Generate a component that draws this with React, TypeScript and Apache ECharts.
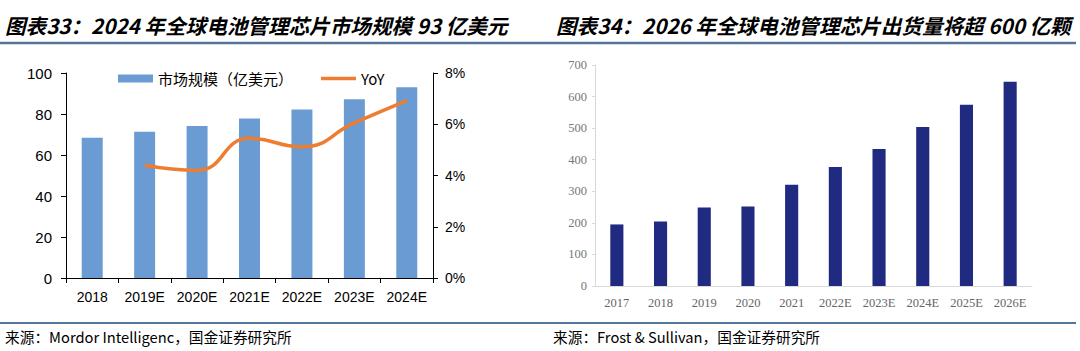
import React, { useEffect, useRef } from "react";
import * as echarts from "echarts";

const leftCategories = ["2018", "2019E", "2020E", "2021E", "2022E", "2023E", "2024E"];
const marketSize = [68.4, 71.3, 74.1, 77.8, 82.2, 87.2, 93];
const yoy = [null, 4.4, 4.2, 5.45, 5.12, 6.05, 6.92];

const rightCategories = ["2017", "2018", "2019", "2020", "2021", "2022E", "2023E", "2024E", "2025E", "2026E"];
const shipments = [195, 204, 249, 252, 321, 377, 434, 504, 574, 647];

const leftTitle = "图表33：2024 年全球电池管理芯片市场规模 93 亿美元";
const rightTitle = "图表34：2026 年全球电池管理芯片出货量将超 600 亿颗";
const leftSource = "来源：Mordor Intelligenc，国金证券研究所";
const rightSource = "来源：Frost & Sullivan，国金证券研究所";

export default function App() {
  const ref = useRef<HTMLDivElement>(null);
  useEffect(() => {
    if (!ref.current) return;
    const chart = echarts.init(ref.current, null, { renderer: "svg" });
    const sans = "Liberation Sans, Arial, sans-serif";
    const serif = "Liberation Serif, Times New Roman, serif";
    const cjk = "'Noto Sans CJK SC', sans-serif";
    chart.setOption({
      animation: false,
      backgroundColor: "#ffffff",
      textStyle: { fontFamily: sans },
      grid: [
        { left: 66, top: 73, width: 367, height: 205 },
        { left: 595, top: 65, width: 437, height: 221 },
      ],
      legend: {
        left: 113,
        top: 66,
        itemWidth: 35,
        itemHeight: 8,
        itemGap: 28,
        textStyle: { fontSize: 15, color: "#000", fontFamily: cjk },
        data: [
          { name: "市场规模（亿美元）", icon: "rect" },
          { name: "YoY", icon: "path://M0,0 H35 V3.5 H0 Z" },
        ],
      },
      xAxis: [
        {
          type: "category",
          gridIndex: 0,
          data: leftCategories,
          axisLine: { lineStyle: { color: "#000", width: 1 } },
          axisTick: { show: true, length: 5, lineStyle: { color: "#000" } },
          axisLabel: { fontSize: 14, color: "#000", margin: 12, interval: 0 },
        },
        {
          type: "category",
          gridIndex: 1,
          data: rightCategories,
          axisLine: { lineStyle: { color: "#D9D9D9", width: 1 } },
          axisTick: { show: false },
          axisLabel: { fontSize: 12.5, color: "#666", margin: 10, fontFamily: serif, interval: 0 },
        },
      ],
      yAxis: [
        {
          type: "value",
          gridIndex: 0,
          min: 0,
          max: 100,
          interval: 20,
          axisLine: { show: true, lineStyle: { color: "#000" } },
          axisTick: { show: true, length: 5, lineStyle: { color: "#000" } },
          axisLabel: { fontSize: 15, color: "#000", margin: 14 },
          splitLine: { show: false },
        },
        {
          type: "value",
          gridIndex: 0,
          position: "right",
          min: 0,
          max: 8,
          interval: 2,
          axisLine: { show: true, lineStyle: { color: "#000" } },
          axisTick: { show: true, length: 5, lineStyle: { color: "#000" } },
          axisLabel: { fontSize: 14, color: "#000", margin: 12, formatter: "{value}%" },
          splitLine: { show: false },
        },
        {
          type: "value",
          gridIndex: 1,
          min: 0,
          max: 700,
          interval: 100,
          axisLine: { show: true, lineStyle: { color: "#D9D9D9" } },
          axisTick: { show: true, length: 3, lineStyle: { color: "#D9D9D9" } },
          axisLabel: { fontSize: 12.5, color: "#777", margin: 8, fontFamily: serif },
          splitLine: { show: false },
        },
      ],
      series: [
        {
          name: "市场规模（亿美元）",
          type: "bar",
          xAxisIndex: 0,
          yAxisIndex: 0,
          data: marketSize,
          barWidth: "40%",
          itemStyle: { color: "#6A9BD2" },
        },
        {
          name: "YoY",
          type: "line",
          xAxisIndex: 0,
          yAxisIndex: 1,
          data: yoy,
          smooth: 0.5,
          symbol: "none",
          lineStyle: { color: "#ED7D31", width: 3.5 },
          itemStyle: { color: "#ED7D31" },
        },
        {
          name: "出货量",
          type: "bar",
          xAxisIndex: 1,
          yAxisIndex: 2,
          data: shipments,
          barWidth: "30%",
          itemStyle: { color: "#1F2A80" },
        },
      ],
      graphic: [
        {
          type: "text",
          left: 5,
          top: 15,
          style: { text: leftTitle, fontSize: 20.6, fontWeight: "bold", fontStyle: "italic", fill: "#000", fontFamily: cjk },
        },
        {
          type: "text",
          left: 556,
          top: 15,
          style: { text: rightTitle, fontSize: 20.6, fontWeight: "bold", fontStyle: "italic", fill: "#000", fontFamily: cjk },
        },
        {
          type: "line",
          shape: { x1: 0, y1: 43, x2: 1076, y2: 43 },
          style: { stroke: "#54769A", lineWidth: 2.5 },
        },
        {
          type: "line",
          shape: { x1: 0, y1: 323, x2: 1076, y2: 323 },
          style: { stroke: "#54769A", lineWidth: 2 },
        },
        {
          type: "text",
          left: 5,
          top: 329,
          style: { text: leftSource, fontSize: 14.7, fill: "#000", fontFamily: cjk },
        },
        {
          type: "text",
          left: 553,
          top: 329,
          style: { text: rightSource, fontSize: 14.7, fill: "#000", fontFamily: cjk },
        },
      ],
    });
    return () => chart.dispose();
  }, []);
  return (
    <div
      ref={ref}
      style={{ position: "fixed", left: 0, top: 0, width: 1080, height: 351, background: "#fff" }}
    />
  );
}
